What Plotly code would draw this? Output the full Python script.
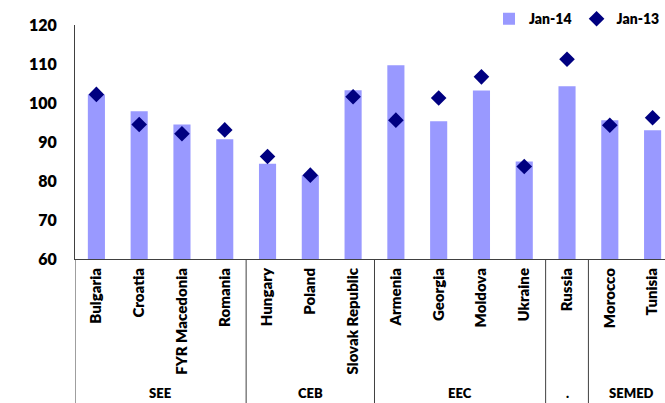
import plotly.graph_objects as go

countries = ["Bulgaria", "Croatia", "FYR Macedonia", "Romania", "Hungary", "Poland",
             "Slovak Republic", "Armenia", "Georgia", "Moldova", "Ukraine", "Russia",
             "Morocco", "Tunisia"]
groups = ["SEE", "CEB", "EEC", ".", "SEMED"]
group_sizes = [4, 3, 4, 1, 2]
jan14 = [102.2, 97.9, 94.5, 90.7, 84.4, 81.5, 103.3, 109.7, 95.3, 103.2, 85.0, 104.3, 95.6, 93.0]
jan13 = [102.2, 94.5, 92.1, 93.1, 86.3, 81.5, 101.6, 95.6, 101.3, 106.7, 83.7, 111.2, 94.3, 96.2]
y_ticks = [60, 70, 80, 90, 100, 110, 120]

FONT = "Lato"
W = 800
xs = list(range(len(countries)))

fig = go.Figure()
fig.add_trace(go.Bar(x=xs, y=jan14, name="Jan-14", width=0.4,
                     marker=dict(color="#9999FF", line=dict(width=0))))
fig.add_trace(go.Scatter(x=xs, y=jan13, name="Jan-13", mode="markers",
                         marker=dict(symbol="diamond", size=12, color="#000080")))

# group dividers and labels
shapes = []
annotations = []
start = 0
bounds = [-0.5]
for g, n in zip(groups, group_sizes):
    end = start + n
    bounds.append(end - 0.5)
    annotations.append(dict(x=(start + end - 1) / 2, y=-0.573, xref="x", yref="paper",
                            text=g, showarrow=False,
                            font=dict(family=FONT, size=13, color="#000000", weight=W),
                            xanchor="center", yanchor="middle"))
    start = end
for b in bounds:
    shapes.append(dict(type="line", xref="x", yref="paper", x0=b, x1=b, y0=0, y1=-0.63,
                       line=dict(color="#404040", width=1)))

fig.update_layout(
    width=665, height=403,
    margin=dict(l=75, r=0, t=25, b=144, autoexpand=False),
    paper_bgcolor="white", plot_bgcolor="white",
    barmode="overlay",
    shapes=shapes, annotations=annotations,
    showlegend=True,
    legend=dict(orientation="h", x=1.0, xanchor="right", y=1.025, yanchor="middle",
                font=dict(family=FONT, size=14, color="#000000", weight=W),
                itemwidth=30, bgcolor="rgba(0,0,0,0)"),
    xaxis=dict(range=[-0.5, 13.29], tickmode="array", tickvals=xs,
               ticktext=countries, tickangle=-90,
               tickfont=dict(family=FONT, size=15, color="#000000", weight=W),
               ticklabelstandoff=2,
               showline=True, linecolor="#404040", linewidth=1, ticks="",
               showgrid=False, zeroline=False, fixedrange=True),
    yaxis=dict(range=[60, 120], tickvals=y_ticks, ticks="",
               tickfont=dict(family=FONT, size=16, color="#000000", weight=W),
               ticklabelstandoff=14,
               showline=True, linecolor="#404040", linewidth=1,
               showgrid=False, zeroline=False, fixedrange=True),
)

fig.write_html("out.html", config={"displayModeBar": False},
               post_script="document.body.style.margin='0';document.body.style.overflow='hidden';")
